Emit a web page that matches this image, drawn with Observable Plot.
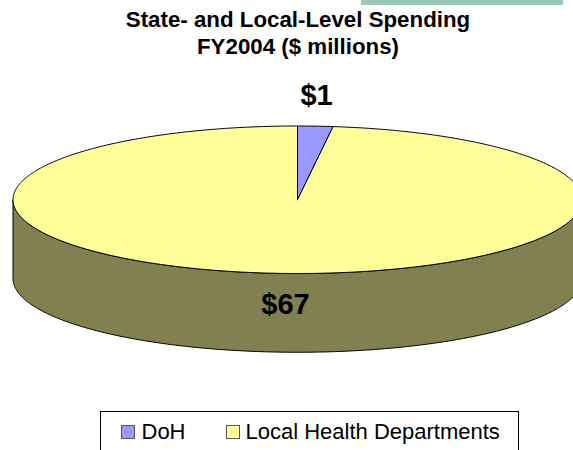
<!DOCTYPE html>
<html>
<head>
<meta charset="utf-8">
<script src="https://cdn.jsdelivr.net/npm/d3@7"></script>
<script src="https://cdn.jsdelivr.net/npm/@observablehq/plot@0.6"></script>
<style>
html,body{margin:0;padding:0;background:#fff;width:573px;height:450px;overflow:hidden;font-family:"Liberation Sans",Arial,sans-serif;color:#000}
#head{position:relative;height:68px;width:573px;overflow:hidden}
#strip{position:absolute;left:361px;top:0;width:202px;height:5px;background:#9fc6b8}
#title{position:absolute;left:11.5px;width:573px;top:5.5px;text-align:center;font-size:22.3px;line-height:27px;font-weight:bold;white-space:nowrap}
#chart{height:337px;width:573px;overflow:hidden}
#chart svg{display:block}
#legendWrap{position:relative;height:45px;width:573px;overflow:hidden}
#legend{position:absolute;left:100px;top:5.7px;width:417px;height:60px;border:1px solid #000;box-sizing:content-box}
.sw{position:absolute;top:13.3px;width:12px;height:12px;border:1px solid #555}
.lb{position:absolute;top:8.5px;font-size:22px;line-height:24px;white-space:nowrap}
</style>
</head>
<body>
<div id="head"><div id="strip"></div><div id="title"><div>State- and Local-Level Spending</div><div>FY2004 ($ millions)</div></div></div>
<div id="chart"></div>
<div id="legendWrap"><div id="legend"></div></div>
<script>
const categories = ["DoH", "Local Health Departments"];
const spending = [1.37, 67.2];          // $ millions; shown rounded
const topColors = ["#9999ff", "#ffff99"];
const sideColors = ["#4d4d80", "#808050"];
const labelNudge = [[19, -30], [-12, 31.5]]; // px offset from the rim point

const depth = 1.068; // extrusion of the pie, in radii of the tilted y axis
const pie = d3.pie().sort(null).value(d => d)(spending);
const pt = (a, drop = 0) => ({x: Math.sin(a), y: Math.cos(a) - drop});
const arc = (a0, a1, drop = 0) => {
  const n = Math.max(2, Math.ceil((a1 - a0) / 0.01));
  return d3.range(n + 1).map(i => pt(a0 + (a1 - a0) * i / n, drop));
};

const marks = [];
pie.forEach((s, i) => {
  const lo = Math.max(s.startAngle, Math.PI / 2), hi = Math.min(s.endAngle, 3 * Math.PI / 2);
  if (hi > lo) {
    const side = [...arc(lo, hi), ...arc(lo, hi, depth).reverse()];
    side.push(side[0]);
    marks.push(Plot.line(side, {x: "x", y: "y", fill: sideColors[i], stroke: "#000", strokeWidth: 1, curve: "linear"}));
  }
});
pie.forEach((s, i) => {
  const top = [{x: 0, y: 0}, ...arc(s.startAngle, s.endAngle), {x: 0, y: 0}];
  marks.push(Plot.line(top, {x: "x", y: "y", fill: topColors[i], stroke: "#000", strokeWidth: 1, curve: "linear"}));
});
const rim = [{x: 0, y: 1}, {x: 0, y: -1}];
spending.forEach((v, i) => {
  marks.push(Plot.text([v], {
    x: () => rim[i].x, y: () => rim[i].y,
    text: d => "$" + Math.round(d),
    dx: labelNudge[i][0], dy: labelNudge[i][1],
    fontSize: 29, fontWeight: "bold", fill: "#000", textAnchor: "middle"
  }));
});

const svg = Plot.plot({
  width: 573, height: 337,
  marginTop: 0, marginRight: 0, marginBottom: 0, marginLeft: 0,
  style: {fontFamily: '"Liberation Sans", Arial, sans-serif', background: "#fff"},
  x: {domain: [-1, 1], range: [12.5, 581.5], axis: null},
  y: {domain: [-1, 1], range: [205, 57.5], axis: null},
  marks
});
document.getElementById("chart").appendChild(svg);

const legend = document.getElementById("legend");
const swX = [20.3, 124.7], lbX = [40.5, 144.5];
categories.forEach((c, i) => {
  const sw = document.createElement("div");
  sw.className = "sw"; sw.style.left = swX[i] + "px"; sw.style.background = topColors[i];
  const lb = document.createElement("div");
  lb.className = "lb"; lb.style.left = lbX[i] + "px"; lb.textContent = c;
  legend.append(sw, lb);
});
</script>
</body>
</html>
